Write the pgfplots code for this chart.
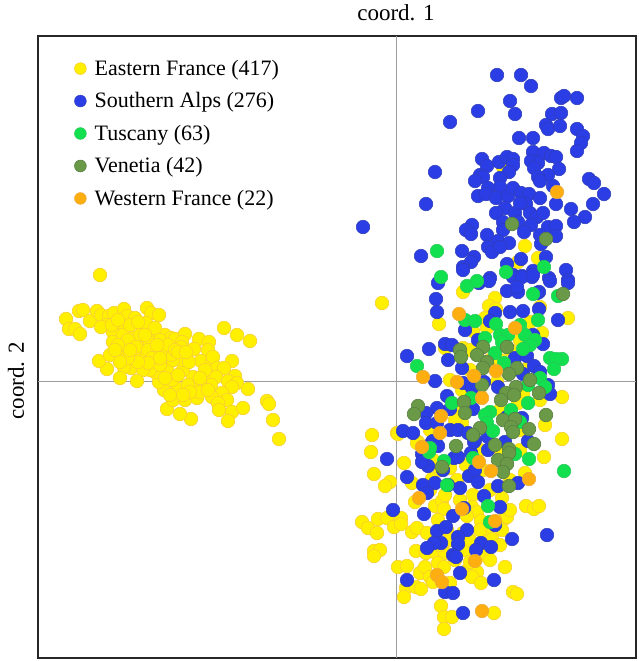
\documentclass[border=0pt]{standalone}
\usepackage{fontspec}
\setmainfont{Liberation Serif}
\usepackage{pgfplots}
\pgfplotsset{compat=1.18}
\definecolor{yf}{HTML}{FFF000}\definecolor{yd}{HTML}{F9CF30}
\definecolor{bf}{HTML}{2B3EE6}\definecolor{bd}{HTML}{2F3CB8}
\definecolor{gf}{HTML}{12E04E}\definecolor{gd}{HTML}{28C858}
\definecolor{of}{HTML}{6A9A48}\definecolor{od}{HTML}{587F42}
\definecolor{rf}{HTML}{FFAE10}\definecolor{rd}{HTML}{E8A840}
\begin{document}
\begin{tikzpicture}[x=1pt,y=1pt]
\path[use as bounding box] (0,0) rectangle (639,661);
\begin{axis}[
  at={(38pt,3pt)},anchor=south west,
  scale only axis,width=598pt,height=622pt,
  xmin=38,xmax=636,ymin=36,ymax=658,y dir=reverse,
  xtick=\empty,ytick=\empty,
  axis line style={draw=black!85,line width=1.8pt},
  legend cell align=left,
  legend style={at={(axis cs:74,58)},anchor=north west,draw=none,fill=none,
    font=\fontsize{22}{24}\selectfont,row sep=11.7pt,inner sep=0pt},
  legend image code/.code={\path[#1,mark size=5.9pt] plot coordinates {(6pt,0pt)};\path (0pt,0pt) (18pt,0pt);},
  every axis plot/.append style={only marks,mark=*,mark size=6.8pt},
]
\addplot[forget plot,no markers,sharp plot,draw=black!38,line width=1pt] coordinates {(396,36)(396,658)};
\addplot[forget plot,no markers,sharp plot,draw=black!38,line width=1pt] coordinates {(38,381)(636,381)};
\addplot[mark options={fill=yf,draw=yd,line width=0.6pt}] coordinates {
(100,275)(66,319)(69,329)(75,329)(80,334)(79,311)(83,310)(90,321)(97,311)(101,315)(109,316)(114,313)(124,309)(127,316)(135,318)(147,308)(151,313)(159,315)(106,325)(101,327)(123,327)(113,332)(143,328)(146,323)(153,335)(165,335)(171,338)(175,339)(185,334)(182,342)(181,347)(199,339)(209,342)(208,350)(224,328)(237,335)(250,341)(194,349)(201,361)(212,362)(213,357)(232,361)(217,368)(224,368)(208,376)(216,377)(235,376)(228,381)(237,383)(211,385)(232,387)(248,389)(203,388)(222,393)(212,397)(227,400)(218,403)(219,410)(232,412)(228,421)(243,408)(267,401)(269,404)(273,420)(279,439)(191,419)(180,414)(167,409)(173,400)(164,390)(159,382)(178,389)(172,380)(185,400)(197,398)(193,382)(193,377)(183,370)(182,360)(189,362)(167,368)(155,372)(150,370)(160,365)(173,360)(171,355)(155,351)(163,348)(143,358)(134,355)(142,345)(131,368)(124,367)(143,370)(137,381)(120,378)(107,369)(99,361)(110,355)(120,352)(113,342)(123,345)(133,338)(150,342)(123,335)(140,335)
(128,340)(136,347)(148,350)(118,345)(130,325)(138,322)(112,325)(118,320)(155,328)(160,340)(168,345)(175,350)(152,358)(160,358)(178,352)(186,352)(148,363)(138,362)(128,358)(120,362)(165,378)(178,375)(188,385)(200,392)(208,390)(170,395)(190,392)(205,370)(200,378)(183,395)(157,345)(145,335)(130,350)(115,350)
(382,303)(439,324)(463,292)(495,298)(489,306)(496,309)(473,331)(485,318)(487,328)(530,322)(540,307)(568,318)(542,333)(463,348)(445,348)(562,397)(562,439)(397,433)(418,442)(497,382)(523,394)(518,403)(462,390)(462,423)(525,246)(518,262)(538,258)(503,167)
(372,435)(398,434)(371,452)(404,463)(374,474)(390,482)(385,486)(412,483)(432,479)(457,480)(473,495)(502,498)(415,502)(435,506)(442,501)(444,509)(472,507)(477,512)(467,516)(481,521)(504,519)(507,517)(502,530)(526,506)(534,509)(539,506)(362,522)(368,528)(377,533)(378,519)(387,518)(394,527)(401,518)(401,524)(412,532)(417,528)(427,533)(438,520)(447,530)(463,533)(487,533)(492,539)(374,551)(380,550)(374,556)(416,551)(426,553)(436,553)(445,553)(465,550)(483,555)(398,567)(407,566)(420,573)(425,567)(438,563)(444,567)(430,577)(433,582)(450,583)(465,572)(477,572)(472,577)(481,583)(505,567)(406,588)(416,587)(421,589)(404,597)(513,592)(517,594)(441,606)(444,617)(452,617)(444,629)(494,613)(544,457)(525,473)(417,443)(433,460)(450,468)(466,465)(483,470)(430,490)(445,495)(460,500)(490,490)(510,480)(450,540)(470,540)(480,530)(440,545)(455,560)(470,562)(490,560)(500,545)(510,510)
(470,370)(490,360)(510,350)(530,365)(480,395)(500,410)(520,430)(450,380)(460,410)(500,450)(480,450)(520,450)(440,470)(500,360)(520,340)(470,350)(455,420)(430,430)(540,400)(545,425)
};
\addlegendentry{Eastern France (417)}
\addplot[mark options={fill=bf,draw=bd,line width=0.5pt}] coordinates {
(497,75)(521,75)(531,86)(561,98)(564,96)(577,98)(510,101)(478,111)(515,114)(450,122)(552,114)(561,113)(546,125)(548,129)(560,126)(577,129)(583,136)(581,143)(577,151)(519,138)(533,138)(482,159)(487,166)(499,162)(507,157)(513,159)(513,165)(509,172)(533,152)(544,153)(551,156)(556,157)(531,161)(538,163)(534,168)(559,169)(548,175)(538,177)(540,181)(553,186)(435,172)(480,175)(483,177)(475,181)(500,178)(500,187)(488,188)(478,196)(486,194)(496,198)(508,196)(513,188)(521,193)(529,194)(540,198)(556,204)(589,179)(594,183)(604,194)(593,204)(571,209)(585,217)(574,222)(426,204)(363,227)(505,208)(496,213)(515,213)(526,204)(520,203)(530,213)(537,217)(543,213)(503,222)(518,222)(531,225)(548,227)(556,226)(472,225)(466,230)(471,234)(487,235)(503,230)(524,232)(540,235)(556,236)(498,241)(509,243)(488,247)(492,252)(500,247)(541,244)(546,257)(421,256)(462,251)(474,257)(471,262)(463,267)(507,264)(521,259)(566,270)(490,278)(513,275)(522,276)(533,271)(532,277)(549,278)(568,280)
(438,283)(436,299)(437,312)(463,270)(479,283)(489,281)(513,277)(522,277)(533,275)(550,281)(568,283)(507,291)(518,292)(517,287)(539,292)(537,293)(510,312)(523,311)(539,309)(558,320)(495,313)(490,321)(465,330)(478,340)(543,344)(533,335)(445,344)(452,345)(429,349)(407,356)(448,360)(462,368)(515,358)(527,356)(534,366)(523,374)(540,372)(548,385)(550,394)(435,381)(447,396)(463,383)(472,388)(484,382)(498,387)(437,408)(426,413)(426,423)(403,431)(413,433)(437,423)(450,409)(450,430)(458,430)(473,409)(475,440)(468,433)(437,445)(432,442)(488,437)(505,442)(522,418)(528,441)(507,417)
(387,459)(422,454)(433,441)(438,446)(428,466)(422,462)(443,470)(454,458)(458,457)(471,453)(488,450)(474,442)(469,476)(475,470)(478,482)(407,477)(423,485)(435,483)(427,493)(460,488)(448,485)(498,486)(518,483)(484,496)(500,507)(393,510)(424,514)(453,516)(464,508)(495,525)(437,531)(446,527)(467,530)(458,537)(458,544)(441,543)(434,543)(427,548)(481,543)(491,547)(476,550)(453,555)(456,557)(512,539)(547,535)(460,573)(494,580)(407,580)(445,592)(453,593)(463,613)
};
\addlegendentry{Southern Alps (276)}
\addplot[mark options={fill=gf,draw=gd,line width=0.5pt}] coordinates {
(437,251)(441,277)(506,272)(544,267)(467,286)(477,281)(533,294)(558,296)(538,320)(465,320)(475,321)(496,324)(485,338)(500,335)(508,335)(520,325)(525,335)(535,340)(530,345)(523,349)(502,342)(495,353)(504,363)(550,358)(562,359)(556,359)(554,369)(417,366)(540,378)(528,385)(545,387)(452,403)(471,398)(528,403)(511,410)(490,412)(485,415)(487,423)(493,431)(520,422)(429,452)(444,461)(473,458)(515,454)(529,459)(564,471)(447,485)(488,506)(490,522)(430,448)
};
\addlegendentry{Tuscany (63)}
\addplot[mark options={fill=of,draw=od,line width=0.6pt}] coordinates {
(563,294)(507,347)(483,347)(460,350)(461,357)(477,355)(487,362)(483,368)(517,368)(509,374)(530,380)(482,385)(516,387)(506,393)(514,395)(501,400)(539,393)(464,402)(418,406)(414,414)(465,413)(546,415)(503,420)(515,419)(511,427)(513,432)(529,429)(480,428)(473,435)(495,445)(534,444)(456,446)(509,449)(512,224)(546,239)(442,467)(509,453)(498,460)(507,464)(503,472)(509,486)
};
\addlegendentry{Venetia (42)}
\addplot[mark options={fill=rf,draw=rd,line width=0.5pt}] coordinates {
(557,192)(459,314)(515,328)(496,371)(474,376)(457,382)(423,377)(482,398)(441,416)(440,433)(422,447)(479,462)(491,471)(529,479)(419,498)(462,509)(495,521)(475,561)(437,575)(442,582)(482,611)
};
\addlegendentry{Western France (22)}
\end{axis}
\node[font=\fontsize{23}{25}\selectfont] at (396,648) {coord. 1};
\node[font=\fontsize{23}{25}\selectfont,rotate=90] at (16,280) {coord. 2};
\end{tikzpicture}
\end{document}
